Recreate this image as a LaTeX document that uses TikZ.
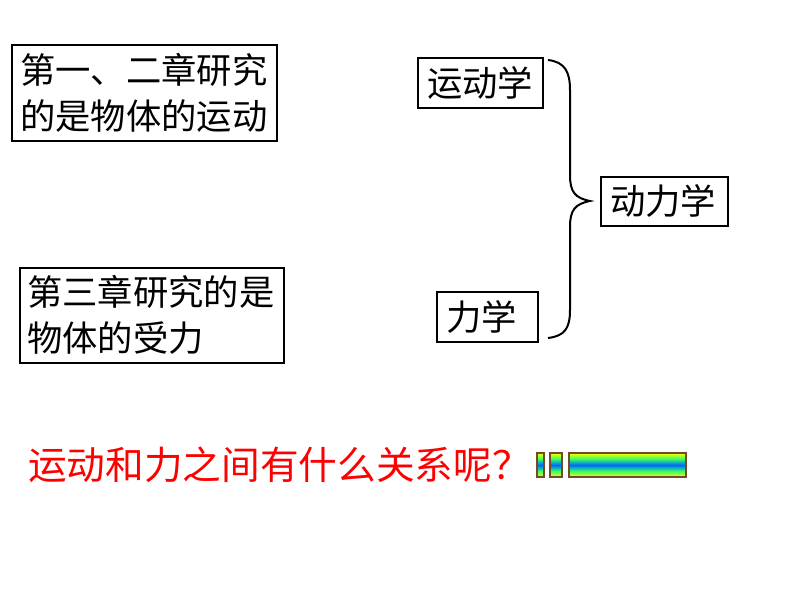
\documentclass[tikz,border=0pt]{standalone}
\usepackage{fontspec}
\setmainfont{Noto Sans CJK SC}
\begin{document}
\begin{tikzpicture}[x=0.75pt,y=-0.75pt,
  bx/.style={draw,line width=1.5pt,inner sep=0pt},
  tx/.style={font=\fontsize{26.5}{34}\selectfont,anchor=west,align=left,inner sep=0pt},
  bar/.style={draw=brown!60!black,line width=0.8pt}]
\useasboundingbox (0,0) rectangle (794,596);
\draw[bx] (12,45) rectangle (277,141);
\node[tx] (t1) at (20,93) {第一、二章研究\\的是物体的运动};
\draw[bx] (20,268) rectangle (284,363);
\node[tx] (t2) at (27,315) {第三章研究的是\\物体的受力};
\draw[bx] (418,58) rectangle (543,108);
\node[tx] (t3) at (427,83) {运动学};
\draw[bx] (437,292) rectangle (538,342);
\node[tx] (t4) at (446,317) {力学};
\draw[bx] (601,177) rectangle (728,226);
\node[tx] (t5) at (610,201) {动力学};
\draw[line width=1.5pt] (548,60) .. controls (565,62) and (570,72) .. (570,90)
  -- (570,175) .. controls (570,192) and (575,198) .. (590,201)
  .. controls (575,204) and (570,210) .. (570,227)
  -- (570,310) .. controls (570,328) and (565,336) .. (548,338);
\node[tx,text=red,font=\fontsize{29}{34}\selectfont] (q) at (28,465) {运动和力之间有什么关系呢？};
\foreach \a/\b in {537/544,550/562,569/686}{
  \shade[top color=yellow,bottom color=blue!60!cyan,middle color=green!50!cyan!80!yellow] (\a,453) rectangle (\b,465);
  \shade[top color=blue!60!cyan,bottom color=yellow,middle color=green!50!cyan!80!yellow] (\a,465) rectangle (\b,477);
  \draw[bar] (\a,453) rectangle (\b,477);
}
\end{tikzpicture}
\end{document}
